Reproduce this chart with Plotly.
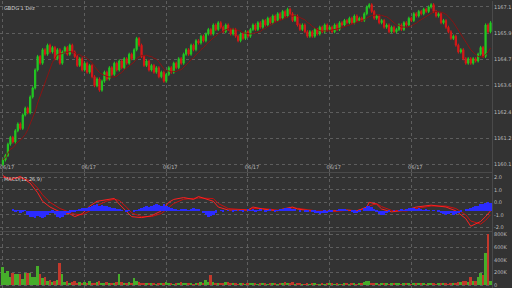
import plotly.graph_objects as go
import pandas as pd

title_text = "GBDG 1 Dez"
macd_label = "MACD(12,26,9)"

closes = [
    1160.3, 1160.5, 1161.0, 1161.3, 1161.1, 1161.6, 1161.9, 1161.7, 1162.3, 1162.6,
    1162.4, 1163.1, 1163.5, 1164.3, 1164.9, 1164.6, 1165.2, 1165.0, 1165.4, 1165.1,
    1165.3, 1164.8, 1165.2, 1164.6, 1165.1, 1165.3, 1165.0, 1165.4, 1165.1, 1164.9,
    1164.5, 1164.8, 1164.3, 1164.6, 1164.2, 1164.5, 1164.0, 1163.6, 1163.9, 1163.4,
    1163.8, 1164.2, 1163.9, 1164.4, 1164.1, 1164.6, 1164.3, 1164.7, 1164.4, 1164.8,
    1164.6, 1165.0, 1164.8, 1165.2, 1165.7, 1165.4, 1164.9, 1164.5, 1164.7, 1164.3,
    1164.5, 1164.2, 1164.4, 1164.0, 1164.2, 1163.8, 1164.1, 1164.4, 1164.2, 1164.6,
    1164.4, 1164.8, 1164.6, 1165.0, 1165.2, 1165.0, 1165.4, 1165.2, 1165.6, 1165.5,
    1165.8, 1165.6, 1165.9, 1166.1, 1165.9, 1166.3, 1166.1, 1166.4, 1166.2, 1166.0,
    1166.3, 1166.1, 1165.9, 1166.1, 1165.8, 1165.6, 1165.9, 1165.7, 1166.0, 1165.8,
    1166.1, 1166.3, 1166.1, 1166.4, 1166.2, 1166.5, 1166.3, 1166.6, 1166.4, 1166.7,
    1166.5, 1166.8, 1166.6, 1166.9, 1166.7, 1167.0, 1166.8, 1166.5, 1166.7, 1166.3,
    1166.1, 1166.3, 1166.0, 1165.8, 1166.0, 1165.8, 1166.1, 1165.9, 1166.2, 1166.0,
    1166.3, 1166.1, 1166.2, 1166.0, 1166.3, 1166.1, 1166.4, 1166.3, 1166.5, 1166.4,
    1166.6, 1166.4, 1166.7, 1166.5, 1166.6, 1166.5, 1166.8, 1167.1, 1167.2, 1166.9,
    1166.6, 1166.7, 1166.4, 1166.5, 1166.2, 1166.3, 1166.0, 1166.2, 1166.0, 1166.1,
    1166.3, 1166.1, 1166.4, 1166.3, 1166.6, 1166.5, 1166.8, 1166.7, 1166.9, 1166.8,
    1167.0, 1166.9, 1167.1, 1167.2, 1166.9, 1166.7, 1166.8, 1166.4, 1166.5, 1166.2,
    1166.0, 1165.7, 1165.8, 1165.4, 1165.1, 1165.2, 1164.8, 1164.6, 1164.8, 1164.6,
    1164.8, 1164.7, 1165.0, 1165.3, 1164.9, 1166.3, 1166.0, 1166.4,
]
first_open = 1160.1
wick = 0.07

volumes_k = [
    285, 195, 225, 120, 195, 165, 170, 175, 90, 195,
    195, 190, 130, 130, 300, 180, 110, 130, 60, 75,
    40, 70, 75, 345, 180, 40, 55, 30, 45, 60,
    35, 50, 25, 40, 30, 55, 20, 35, 45, 60,
    30, 25, 40, 20, 35, 30, 50, 180, 40, 30,
    25, 45, 35, 105, 60, 40, 30, 25, 35, 20,
    30, 25, 15, 30, 20, 25, 40, 35, 20, 15,
    25, 30, 45, 35, 20, 25, 30, 15, 20, 35,
    40, 30, 75, 45, 150, 50, 30, 20, 25, 35,
    45, 40, 30, 25, 20, 15, 25, 20, 15, 30,
    20, 25, 35, 15, 20, 30, 25, 15, 20, 25,
    30, 15, 20, 35, 45, 25, 20, 40, 15, 20,
    25, 15, 10, 20, 15, 25, 20, 15, 10, 20,
    15, 25, 20, 35, 15, 20, 10, 15, 20, 25,
    15, 20, 30, 15, 20, 25, 45, 55, 60, 35,
    25, 20, 15, 25, 20, 30, 15, 20, 25, 35,
    20, 15, 25, 30, 20, 15, 20, 25, 35, 30,
    20, 15, 25, 20, 30, 15, 20, 25, 30, 20,
    15, 25, 35, 30, 45, 40, 55, 60, 50, 120,
    70, 55, 120, 195, 160, 500, 800, 60,
]

hist = [
    0, 0, 0, 0,
    0.1, -0.1, 0.05, -0.15, -0.1, 0.05,
    -0.3, -0.45, -0.5, -0.55, -0.4, -0.5, -0.55, -0.45, -0.3,
    -0.2, -0.15, -0.25,
    -0.45, -0.55, -0.5, -0.35, -0.2,
    -0.15, -0.1, -0.05, 0.05,
    0.1, 0.2, 0.25, 0.2, 0.3, 0.35,
    0.45, 0.5, 0.4, 0.45, 0.35, 0.4, 0.3, 0.25,
    0.2, 0.15, 0.1, 0.05,
    0.0, -0.05, 0.05, 0.0, -0.1, 0.05, 0.1,
    0.2, 0.3, 0.35, 0.3, 0.4,
    0.45, 0.5, 0.45, 0.4, 0.5, 0.35, 0.3, 0.2,
    0.1, 0.15, 0.05, 0.1, 0.15, 0.1, 0.05,
    0.15, 0.2, 0.15, 0.1, 0.0,
    -0.2, -0.35, -0.45, -0.4, -0.3, -0.15,
    0.0, 0.05, -0.05, 0.0, 0.05, 0.0, -0.05, 0.05, 0.0, 0.05, -0.05, 0.0, 0.1, 0.05,
    0.1, -0.05, 0.05, 0.1, 0.0, -0.1, 0.05, 0.1, 0.0, -0.05, 0.05, 0.1, 0.15, 0.2,
    0.25, 0.2, 0.15, 0.1, 0.0,
    -0.05, 0.0, -0.1, -0.05, 0.0, -0.1, -0.15,
    -0.2, -0.25, -0.2, -0.15, -0.2, -0.1, -0.05, 0.0,
    0.05, 0.1, 0.15, 0.1, 0.05, 0.0,
    -0.1, -0.15, -0.2, -0.1, 0.0,
    0.2, 0.35, 0.4, 0.3, 0.15,
    -0.1, -0.25, -0.35, -0.3, -0.2, -0.1,
    0.0, 0.05, 0.0, 0.05, 0.1, 0.05,
    0.15, 0.2, 0.25, 0.2, 0.15, 0.2, 0.1, 0.05,
    0.1, 0.05, 0.0, 0.05, 0.0,
    -0.1, -0.2, -0.25, -0.3, -0.25, -0.2, -0.3, -0.25,
    -0.2, -0.1, 0.0, 0.1, 0.15, 0.25, 0.3,
    0.35, 0.4, 0.5, 0.55, 0.6, 0.65, 0.6,
]

macd_x = [0, 3, 7, 11, 14, 16, 19, 23, 27, 29, 32, 35, 38, 42, 45, 47, 50, 52, 56, 60,
          64, 67, 69, 73, 77, 79, 85, 87, 91, 99, 101, 105, 111, 113, 117, 119, 127, 135,
          139, 143, 147, 148, 151, 153, 157, 163, 167, 173, 179, 183, 187, 189, 193, 195, 197]
macd_line = [2.15, 1.77, 2.08, 1.54, 0.77, 0.08, -0.38, -0.77, -0.92, -1.15, -0.92, -0.31,
             0.08, 0.23, 0.31, -0.15, -0.77, -1.15, -1.23, -1.08, -0.69, 0.0, 0.23, 0.38,
             0.23, 0.46, 0.08, -0.38, -0.62, -0.62, -0.38, -0.54, -0.69, -0.54, -0.38,
             -0.54, -0.77, -0.69, -0.62, -0.69, -0.38, 0.0, -0.15, -0.54, -0.77, -0.62,
             -0.38, -0.23, -0.38, -0.69, -1.31, -1.92, -1.54, -1.15, -0.69]
signal_line = [2.0, 1.95, 1.95, 1.75, 1.15, 0.6, 0.0, -0.5, -0.8, -0.95, -1.0, -0.7, -0.25,
               0.1, 0.25, 0.15, -0.4, -0.85, -1.15, -1.15, -0.9, -0.45, -0.1, 0.25, 0.3,
               0.35, 0.3, -0.1, -0.5, -0.62, -0.5, -0.5, -0.62, -0.6, -0.45, -0.48, -0.7,
               -0.72, -0.65, -0.66, -0.5, -0.3, -0.1, -0.35, -0.65, -0.7, -0.5, -0.3, -0.3,
               -0.5, -1.0, -1.5, -1.75, -1.45, -1.0]

date_ticks = [0, 33, 66, 99, 132, 165]
date_labels = ["06/17", "06/17", "06/17", "06/17", "06/17", "06/17"]
price_ticks = [1160.1, 1161.27, 1162.43, 1163.6, 1164.77, 1165.93, 1167.1]
price_labels = ["1160.1", "1161.2", "1162.4", "1163.6", "1164.7", "1165.9", "1167.1"]
macd_ticks = [-2.0, -1.0, 0.0, 1.0, 2.0]
macd_labels = ["-2.0", "-1.0", "0.0", "1.0", "2.0"]
vol_ticks = [0, 200, 400, 600, 800]
vol_labels = ["0", "200K", "400K", "600K", "800K"]

n = len(closes)
idx = list(range(n))
opens = [first_open] + closes[:-1]
highs = [max(o, c) + wick for o, c in zip(opens, closes)]
lows = [min(o, c) - wick for o, c in zip(opens, closes)]
ma = pd.Series(closes).rolling(10, min_periods=1).mean().tolist()

UP = "#22c822"
DOWN = "#d81818"
VUP = "#46ad2a"
VDOWN = "#c2392c"
vol_colors = [VUP if c >= o else VDOWN for o, c in zip(opens, closes)]

BG = "#333333"
GRID = "#5e5e5e"
LINE = "#4a4a4a"
TICKF = dict(family="DejaVu Sans", size=5, color="#bdbdbd")

fig = go.Figure()
fig.add_trace(go.Candlestick(
    x=idx, open=opens, high=highs, low=lows, close=closes,
    increasing=dict(line=dict(color=UP, width=1), fillcolor=UP),
    decreasing=dict(line=dict(color=DOWN, width=1), fillcolor=DOWN),
    whiskerwidth=0, xaxis="x", yaxis="y", showlegend=False, hoverinfo="skip"))
fig.add_trace(go.Scatter(x=idx, y=ma, mode="lines", line=dict(color="#8a1414", width=1),
                         xaxis="x", yaxis="y", showlegend=False, hoverinfo="skip"))
fig.add_trace(go.Bar(x=idx, y=hist, marker=dict(color="#2b2bff", line=dict(width=0)),
                     width=1.0, xaxis="x2", yaxis="y4", showlegend=False, hoverinfo="skip"))
fig.add_trace(go.Scatter(x=macd_x, y=signal_line, mode="lines", line=dict(color="#c81010", width=1),
                         xaxis="x2", yaxis="y2", showlegend=False, hoverinfo="skip"))
fig.add_trace(go.Scatter(x=macd_x, y=macd_line, mode="lines", line=dict(color="#ff2020", width=1),
                         xaxis="x2", yaxis="y2", showlegend=False, hoverinfo="skip"))
fig.add_trace(go.Bar(x=idx, y=volumes_k, marker=dict(color=vol_colors, line=dict(width=0)),
                     width=0.8, xaxis="x3", yaxis="y3", showlegend=False, hoverinfo="skip"))

xr = [-1.2, 197.6]
common_x = dict(range=xr, tickmode="array", tickvals=date_ticks, showgrid=True,
                gridcolor=GRID, griddash="dot", gridwidth=1, zeroline=False, ticks="",
                fixedrange=True)
common_y = dict(side="right", showgrid=True, gridcolor=GRID, griddash="dot", gridwidth=1,
                zeroline=False, ticks="", tickfont=TICKF, showline=True, linecolor=LINE,
                linewidth=1, fixedrange=True, tickmode="array")

fig.update_layout(
    width=512, height=288,
    margin=dict(l=0, r=15, t=0, b=0),
    paper_bgcolor=BG, plot_bgcolor=BG,
    bargap=0, showlegend=False,
    xaxis=dict(**common_x, domain=[0, 1], anchor="y", ticktext=date_labels,
               showticklabels=True, tickfont=TICKF, ticklabelposition="inside",
               ticklabelshift=4, ticklabeloverflow="allow",
               rangeslider=dict(visible=False), showline=True, linecolor=LINE),
    xaxis2=dict(**common_x, domain=[0, 1], anchor="y2", showticklabels=False,
                matches="x", showline=True, linecolor=LINE, mirror=True),
    xaxis3=dict(**common_x, domain=[0, 1], anchor="y3", showticklabels=False,
                matches="x", showline=True, linecolor=LINE),
    yaxis=dict(**common_y, domain=[1 - 172 / 288, 1.0], anchor="x",
               range=[1159.746, 1167.366], tickvals=price_ticks, ticktext=price_labels),
    yaxis2=dict(**common_y, domain=[1 - 231 / 288, 1 - 173 / 288], anchor="x2",
                range=[-2.32, 2.32], tickvals=macd_ticks, ticktext=macd_labels),
    yaxis4=dict(domain=[1 - 231 / 288, 1 - 173 / 288], anchor="x2", overlaying="y2",
                range=[-1.54, 2.92], showgrid=False, showticklabels=False, zeroline=False,
                fixedrange=True),
    yaxis3=dict(**common_y, domain=[0, 1 - 232 / 288], anchor="x3",
                range=[-45, 835], tickvals=vol_ticks, ticktext=vol_labels),
    annotations=[
        dict(text=title_text, xref="paper", yref="paper", x=0.004, y=1 - 2 / 288,
             xanchor="left", yanchor="top", showarrow=False,
             font=dict(family="DejaVu Sans", size=5, color="#d0d0d0")),
        dict(text=macd_label, xref="paper", yref="paper", x=0.004, y=1 - 174 / 288,
             xanchor="left", yanchor="top", showarrow=False,
             font=dict(family="DejaVu Sans", size=5, color="#d0d0d0")),
    ],
)

fig.write_html("out.html")
